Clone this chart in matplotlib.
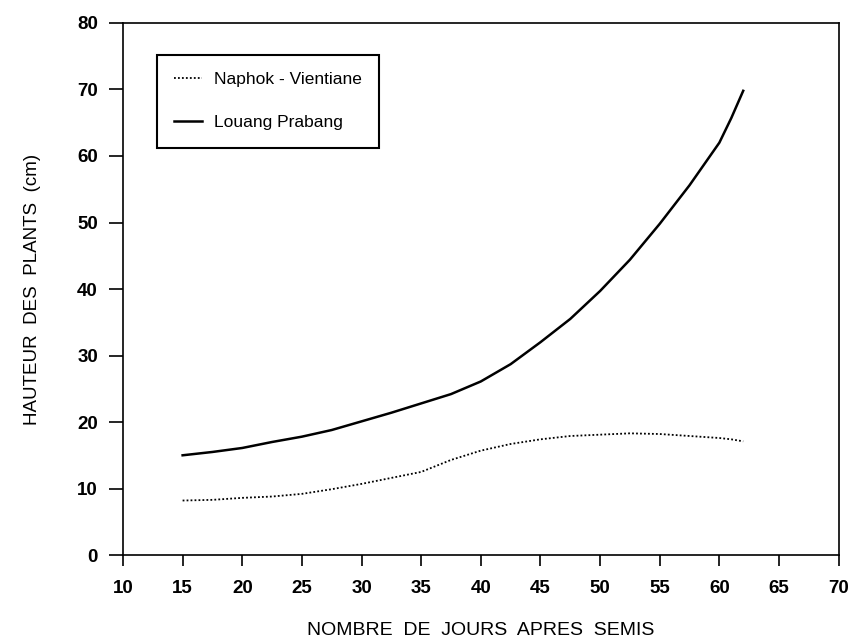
import matplotlib.pyplot as plt

plt.rcParams['font.family'] = ['Liberation Sans', 'DejaVu Sans']

jours = [15, 17.5, 20, 22.5, 25, 27.5, 30, 32.5, 35, 37.5, 40, 42.5, 45,
         47.5, 50, 52.5, 55, 57.5, 60, 61, 62]
naphok = [8.2, 8.3, 8.6, 8.8, 9.2, 9.9, 10.7, 11.6, 12.5, 14.3, 15.7, 16.7,
          17.4, 17.9, 18.1, 18.3, 18.2, 17.9, 17.6, 17.4, 17.1]
louang = [15.0, 15.5, 16.1, 17.0, 17.8, 18.8, 20.1, 21.4, 22.8, 24.2, 26.1,
          28.7, 32.0, 35.5, 39.7, 44.4, 49.8, 55.6, 62.0, 65.7, 69.8]

xticks = list(range(10, 71, 5))
yticks = list(range(0, 81, 10))

fig = plt.figure(figsize=(8.54, 6.38), dpi=100)
ax = fig.add_axes([0.144, 0.130, 0.838, 0.834])

ax.plot(jours, naphok, color='black', linestyle=(0, (1, 1.2)), linewidth=1.3,
        label='Naphok - Vientiane')
ax.plot(jours, louang, color='black', linestyle='-', linewidth=1.8,
        label='Louang Prabang')

ax.set_xlim(10, 70)
ax.set_ylim(0, 80)
ax.set_xticks(xticks)
ax.set_yticks(yticks)
ax.tick_params(axis='y', direction='out', length=10, width=1.2, pad=8)
ax.tick_params(axis='x', direction='out', length=8, width=1.2, pad=10)
for lab in ax.get_xticklabels() + ax.get_yticklabels():
    lab.set_fontsize(13.5)
    lab.set_fontweight('bold')
for sp in ax.spines.values():
    sp.set_linewidth(1.2)

ax.set_xlabel('NOMBRE  DE  JOURS  APRES  SEMIS', fontsize=14, labelpad=18)
ax.set_ylabel('HAUTEUR  DES  PLANTS  (cm)', fontsize=13.5, labelpad=26)

leg = ax.legend(loc='upper left', bbox_to_anchor=(0.0475, 0.940), fancybox=False,
                edgecolor='black', framealpha=1, handlelength=1.6,
                borderpad=1.0, labelspacing=1.6, handletextpad=0.7,
                borderaxespad=0, prop={'size': 12.5})
leg.get_frame().set_linewidth(1.5)

fig.savefig('out.png', dpi=100)
